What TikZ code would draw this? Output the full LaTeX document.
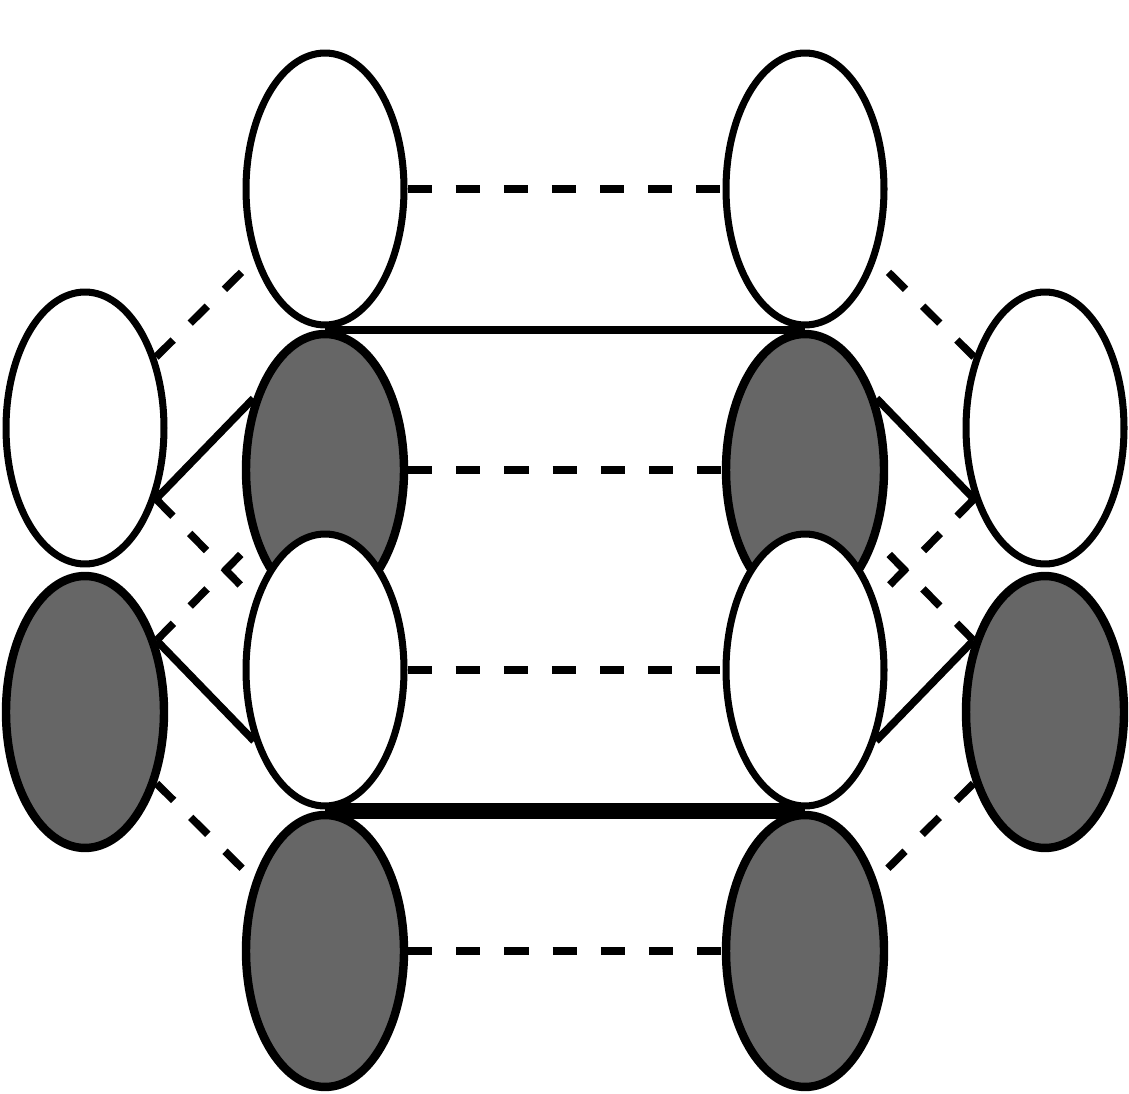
\documentclass[tikz,border=0pt]{standalone}
\usepackage{tikz}
\usetikzlibrary{shapes,positioning,backgrounds}

\begin{document}
\begin{tikzpicture}[x=0.02cm,y=-0.02cm,
  lobe/.style={ellipse,draw,inner sep=0pt,minimum width=3.16cm,minimum height=5.44cm},
  whitelobe/.style={lobe,fill=white,line width=4pt},
  graylobe/.style={lobe,fill=black!60,line width=4.8pt},
  bond/.style={line width=4.3pt},
  weak/.style={bond,dash pattern=on 13.7pt off 13.7pt}]
\useasboundingbox (0,0) rectangle (1129,1094);

% left pair
\node[whitelobe] (l1) at (85,428) {};
\node[graylobe] (l2) at (85,712) {};

% inner left column
\node[whitelobe] (a1) at (325,189) {};
\node[graylobe] (a2) at (325,470) {};
\node[whitelobe] (a3) at (325,670) {};
\node[graylobe] (a4) at (325,951) {};

% inner right column
\node[whitelobe] (b1) at (805,189) {};
\node[graylobe] (b2) at (805,470) {};
\node[whitelobe] (b3) at (805,670) {};
\node[graylobe] (b4) at (805,951) {};

% right pair
\node[whitelobe] (r1) at (1045,428) {};
\node[graylobe] (r2) at (1045,712) {};

\begin{scope}[on background layer]
% across
\foreach \i in {1,...,4}
  \draw[weak] (a\i.east) -- (b\i.west);
\draw[bond] (a2.north) -- (b2.north);
\draw[bond,line width=9pt] (a4.north) -- (b4.north);

% left side
\draw[weak] (l1.45) -- (a1.225);
\draw[bond] (l1.-45) -- (a2.135);
\draw[weak] (l1.-45) -- (a3.135);
\draw[weak] (l2.45) -- (a2.225);
\draw[bond] (l2.45) -- (a3.225);
\draw[weak] (l2.-45) -- (a4.135);

% right side
\draw[weak] (r1.135) -- (b1.-45);
\draw[bond] (r1.225) -- (b2.45);
\draw[weak] (r1.225) -- (b3.45);
\draw[weak] (r2.135) -- (b2.-45);
\draw[bond] (r2.135) -- (b3.-45);
\draw[weak] (r2.225) -- (b4.45);
\end{scope}
\end{tikzpicture}
\end{document}
